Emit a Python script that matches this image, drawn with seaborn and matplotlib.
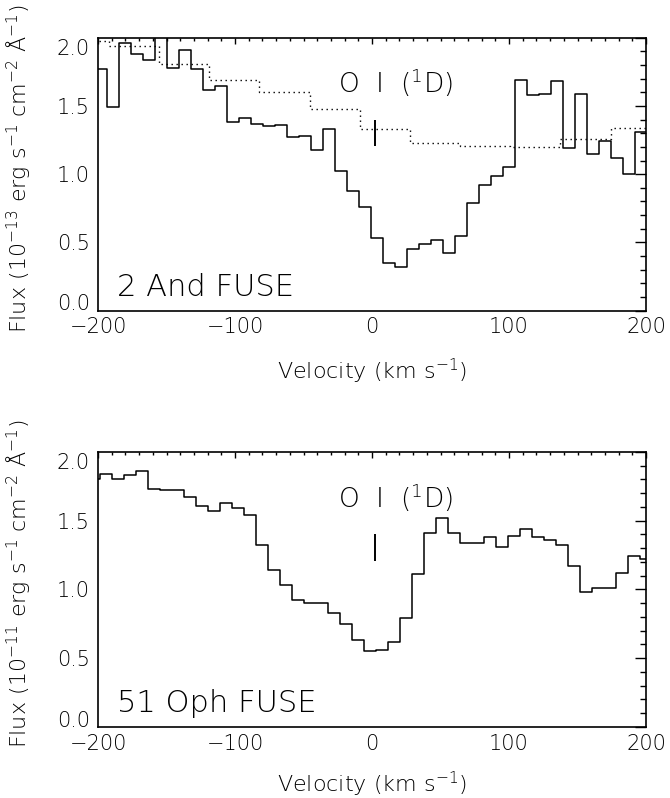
import numpy as np
import matplotlib
matplotlib.use("Agg")
import matplotlib.pyplot as plt
import matplotlib.transforms as mtrans
from matplotlib.ticker import MultipleLocator, FormatStrFormatter
import seaborn as sns

# ---------------- data ----------------
and_vel = [-197.6, -188.8, -180.1, -171.3, -162.6, -153.8, -145.0, -136.3, -127.5,
           -118.8, -110.0, -101.2, -92.5, -83.7, -75.0, -66.2, -57.4, -48.7, -39.9,
           -31.2, -22.4, -13.6, -4.9, 3.9, 12.6, 21.4, 30.2, 38.9, 47.7, 56.4, 65.2,
           74.0, 82.7, 91.5, 100.2, 109.0, 117.8, 126.5, 135.3, 144.0, 152.8, 161.6,
           170.3, 179.1, 187.8, 196.6]
and_flux = [1.77, 1.49, 1.96, 1.88, 1.84, 2.10, 1.78, 1.91, 1.77, 1.62, 1.65, 1.38,
            1.41, 1.37, 1.35, 1.36, 1.27, 1.28, 1.18, 1.33, 1.02, 0.88, 0.76,
            0.53, 0.35, 0.32, 0.45, 0.49, 0.52, 0.42, 0.55, 0.79, 0.92, 0.99, 1.05,
            1.69, 1.58, 1.59, 1.68, 1.19, 1.59, 1.15, 1.24, 1.12, 1.00, 1.31]

and_dot_vel = [-210.3, -173.7, -137.1, -100.5, -63.9, -27.2, 9.4, 46.0, 82.6,
               119.2, 155.8, 192.4]
and_dot_flux = [1.98, 1.94, 1.81, 1.69, 1.60, 1.48, 1.33, 1.23, 1.21, 1.20, 1.26, 1.34]

oph_vel = [-202.6, -193.9, -185.1, -176.4, -167.6, -158.9, -150.1, -141.4, -132.7,
           -123.9, -115.2, -106.4, -97.7, -88.9, -80.2, -71.4, -62.7, -53.9, -45.2,
           -36.5, -27.7, -19.0, -10.2, -1.5, 7.3, 16.0, 24.8, 33.5, 42.2, 51.0, 59.7,
           68.5, 77.2, 86.0, 94.7, 103.5, 112.2, 121.0, 129.7, 138.4, 147.2, 155.9,
           164.7, 173.4, 182.2, 190.9, 199.7]
oph_flux = [1.80, 1.84, 1.80, 1.83, 1.86, 1.73, 1.72, 1.72, 1.67, 1.61, 1.57, 1.63,
            1.59, 1.54, 1.32, 1.14, 1.03, 0.92, 0.90, 0.90, 0.83, 0.75, 0.63, 0.55,
            0.56, 0.62, 0.79, 1.11, 1.41, 1.52, 1.41, 1.34, 1.34, 1.38, 1.31, 1.39,
            1.44, 1.38, 1.36, 1.32, 1.17, 0.98, 1.01, 1.01, 1.12, 1.24, 1.22]

star_labels = ["2 And FUSE", "51 Oph FUSE"]
ylabels = [r"Flux (10$^{-13}$ erg s$^{-1}$ cm$^{-2}$ Å$^{-1}$)",
           r"Flux (10$^{-11}$ erg s$^{-1}$ cm$^{-2}$ Å$^{-1}$)"]
xlabel = r"Velocity (km s$^{-1}$)"
line_label = r"O  I  ($^{1}$D)"
line_vel = 2.0
line_tick_flux = (1.21, 1.40)

# ---------------- style ----------------
sns.set_theme(style="white")
plt.rcParams['font.family'] = ['DejaVu Sans']
plt.rcParams['font.weight'] = 'light'
plt.rcParams['axes.labelweight'] = 'light'
plt.rcParams['mathtext.fontset'] = 'custom'
plt.rcParams['mathtext.rm'] = 'DejaVu Sans:light'
plt.rcParams['mathtext.it'] = 'DejaVu Sans:light'
plt.rcParams['mathtext.default'] = 'rm'
plt.rcParams['axes.unicode_minus'] = True

fig = plt.figure(figsize=(6.7, 7.98), dpi=100)
fig.patch.set_facecolor('white')
ax1 = fig.add_axes([0.1463, 0.6109, 0.8179, 0.3417])
ax2 = fig.add_axes([0.1463, 0.0890, 0.8179, 0.3446])


def edges_from_centers(c):
    c = np.asarray(c, dtype=float)
    mids = (c[:-1] + c[1:]) / 2
    return np.concatenate([[2 * c[0] - mids[0]], mids, [2 * c[-1] - mids[-1]]])


def step(ax, vel, flux, **kw):
    edges = edges_from_centers(vel)
    yy = np.append(np.asarray(flux, dtype=float), flux[-1])
    sns.lineplot(x=edges, y=yy, drawstyle='steps-post', estimator=None,
                 sort=False, ax=ax, **kw)


step(ax1, and_vel, and_flux, color='black', linewidth=1.1)
step(ax1, and_dot_vel, and_dot_flux, color='black', linewidth=1.0,
     linestyle=(0, (1, 2.6)))
step(ax2, oph_vel, oph_flux, color='black', linewidth=1.1)

for ax, lab, yl, xl_y in ((ax1, star_labels[0], ylabels[0], -0.17),
                          (ax2, star_labels[1], ylabels[1], -0.155)):
    ax.set_xlim(-200, 200)
    ax.set_ylim(0, 2.0)
    ax.xaxis.set_major_locator(MultipleLocator(100))
    ax.xaxis.set_minor_locator(MultipleLocator(10))
    ax.yaxis.set_major_locator(MultipleLocator(0.5))
    ax.yaxis.set_minor_locator(MultipleLocator(0.1))
    ax.yaxis.set_major_formatter(FormatStrFormatter('%.1f'))
    ax.tick_params(which='both', direction='in', top=True, right=True,
                   color='black', width=1.0, labelsize=15, labelcolor='black')
    ax.tick_params(axis='x', which='major', length=4, pad=5)
    ax.tick_params(axis='x', which='minor', length=2)
    ax.tick_params(axis='y', which='major', length=8, pad=6)
    ax.tick_params(axis='y', which='minor', length=4)
    for s in ax.spines.values():
        s.set_color('black')
        s.set_linewidth(1.2)
    ax.set_xlabel(xlabel, fontsize=16, color='black', fontweight='light')
    ax.set_ylabel(yl, fontsize=16, color='black', fontweight='light')
    ax.xaxis.set_label_coords(0.5, xl_y)
    ax.yaxis.set_label_coords(-0.118, 0.52)
    ax.text(-186, 0.17, lab, ha='left', va='center', fontsize=22, color='black')
    ax.text(17, 1.67, line_label, ha='center', va='center', fontsize=19,
            color='black')
    ax.vlines(line_vel, *line_tick_flux, color='black', linewidth=1.4)

fig.canvas.draw()
for ax in (ax1, ax2):
    for t in ax.yaxis.get_major_ticks():
        loc = t.get_loc()
        if abs(loc - 0.0) < 1e-6:
            dy = 6.0
        elif abs(loc - 2.0) < 1e-6:
            dy = -6.5
        else:
            continue
        t.label1.set_transform(t.label1.get_transform() +
                               mtrans.ScaledTranslation(0, dy / 72, fig.dpi_scale_trans))

fig.savefig("out.png", dpi=100, facecolor='white')
